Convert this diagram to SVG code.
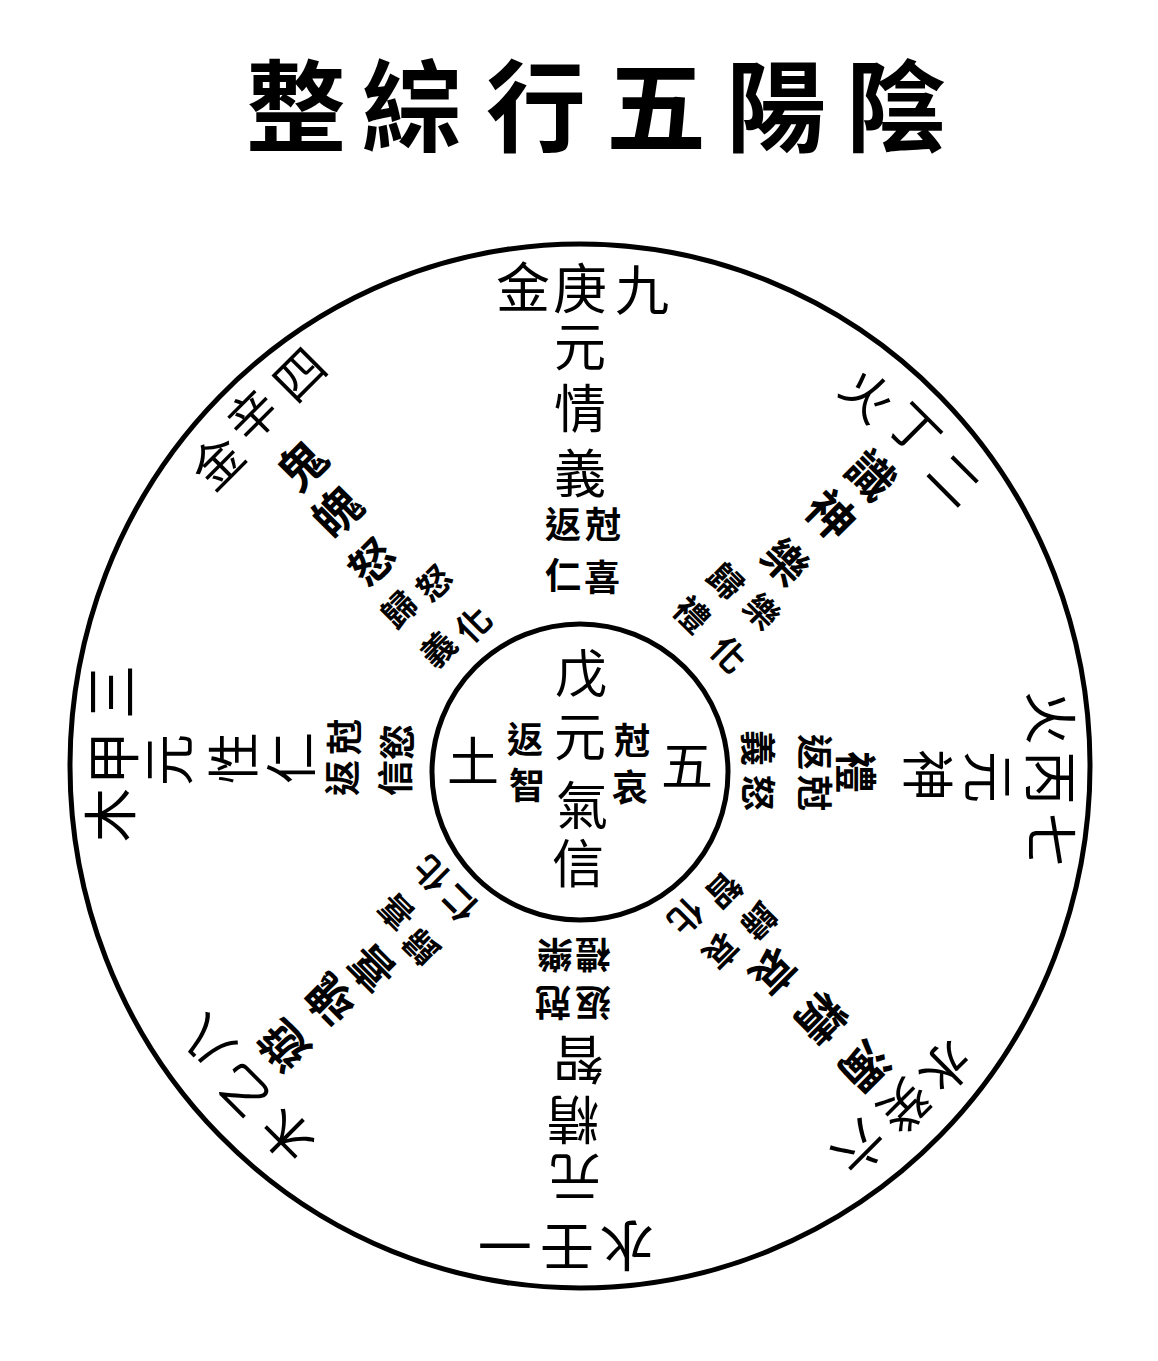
<svg xmlns="http://www.w3.org/2000/svg" width="1158" height="1361" viewBox="0 0 1158 1361">
<style>
text{font-family:"Noto Sans CJK TC","Noto Sans CJK SC",sans-serif;fill:#000;text-anchor:middle;dominant-baseline:central}
.t{font-size:100px;font-weight:700}
.r{font-size:54px}
.b{font-size:52px}
.m{font-size:42px;font-weight:700}
.s{font-size:36px;font-weight:700}
.rd{font-size:50px}
.bd{font-size:47px;font-weight:700}
.md{font-size:44px;font-weight:700}
.sd{font-size:34px;font-weight:700}
.ring{fill:none;stroke:#000;stroke-width:5}
</style>
<rect width="1158" height="1361" fill="#fff"/>
<g id="title">
<text class="t" x="296" y="100">整</text><text class="t" x="412" y="100">綜</text><text class="t" x="536" y="100">行</text><text class="t" x="656" y="100">五</text><text class="t" x="776" y="100">陽</text><text class="t" x="896" y="100">陰</text>
</g>
<g id="connectors">
<ellipse class="ring" cx="580" cy="766" rx="510" ry="522"/>
<circle class="ring" cx="580" cy="772" r="148"/>
</g>
<g id="spoke-top">
<text class="r" x="523" y="284">金</text><text class="r" x="580" y="285">庚</text><text class="r" x="642" y="287">九</text>
<text class="b" x="580" y="343">元</text><text class="b" x="580" y="405">情</text><text class="b" x="580" y="470">義</text>
<text class="s" x="563" y="522">返</text><text class="s" x="603" y="522">尅</text><text class="s" x="563" y="573">仁</text><text class="s" x="602" y="575">喜</text>
</g>
<g id="spoke-top-right">
<text class="rd" x="870" y="393" transform="rotate(45 870 393)">火</text><text class="rd" x="917" y="427" transform="rotate(45 917 427)">丁</text><text class="rd" x="957" y="477" transform="rotate(45 957 477)">二</text>
<text class="bd" x="873" y="473" transform="rotate(45 873 473)">識</text><text class="bd" x="833" y="513" transform="rotate(45 833 513)">神</text><text class="md" x="787" y="560" transform="rotate(45 787 560)">樂</text>
<text class="sd" x="727" y="580" transform="rotate(45 727 580)">歸</text><text class="sd" x="763" y="610" transform="rotate(45 763 610)">樂</text><text class="sd" x="693" y="613" transform="rotate(45 693 613)">禮</text><text class="sd" x="730" y="653" transform="rotate(45 730 653)">化</text>
</g>
<g id="spoke-right">
<text class="r" x="1053" y="718" transform="rotate(90 1053 718)">火</text><text class="r" x="1053" y="778" transform="rotate(90 1053 778)">丙</text><text class="r" x="1053" y="840" transform="rotate(90 1053 840)">七</text>
<text class="b" x="991" y="777" transform="rotate(90 991 777)">元</text><text class="b" x="930" y="775" transform="rotate(90 930 775)">神</text><text class="m" x="858" y="772" transform="rotate(90 858 772)">禮</text>
<text class="s" x="817" y="752" transform="rotate(90 817 752)">返</text><text class="s" x="817" y="793" transform="rotate(90 817 793)">尅</text><text class="s" x="760" y="748" transform="rotate(90 760 748)">義</text><text class="s" x="760" y="793" transform="rotate(90 760 793)">怒</text>
</g>
<g id="spoke-bottom-right">
<text class="rd" x="948" y="1070" transform="rotate(135 948 1070)">水</text><text class="rd" x="907" y="1108" transform="rotate(135 907 1108)">癸</text><text class="rd" x="862" y="1150" transform="rotate(135 862 1150)">六</text>
<text class="bd" x="867" y="1068" transform="rotate(135 867 1068)">濁</text><text class="bd" x="823" y="1020" transform="rotate(135 823 1020)">精</text><text class="md" x="775" y="973" transform="rotate(135 775 973)">哀</text>
<text class="sd" x="760" y="922" transform="rotate(135 760 922)">歸</text><text class="sd" x="722" y="952" transform="rotate(135 722 952)">哀</text><text class="sd" x="725" y="892" transform="rotate(135 725 892)">智</text><text class="sd" x="687" y="918" transform="rotate(135 687 918)">化</text>
</g>
<g id="spoke-bottom">
<text class="r" x="627" y="1248" transform="rotate(180 627 1248)">水</text><text class="r" x="567" y="1250" transform="rotate(180 567 1250)">壬</text><text class="r" x="505" y="1247" transform="rotate(180 505 1247)">一</text>
<text class="b" x="575" y="1180" transform="rotate(180 575 1180)">元</text><text class="b" x="573" y="1122" transform="rotate(180 573 1122)">精</text><text class="b" x="578" y="1062" transform="rotate(180 578 1062)">智</text>
<text class="s" x="593" y="1005" transform="rotate(180 593 1005)">返</text><text class="s" x="553" y="1005" transform="rotate(180 553 1005)">尅</text><text class="s" x="593" y="957" transform="rotate(180 593 957)">禮</text><text class="s" x="555" y="957" transform="rotate(180 555 957)">樂</text>
</g>
<g id="spoke-bottom-left">
<text class="rd" x="285" y="1138" transform="rotate(225 285 1138)">木</text><text class="rd" x="240" y="1093" transform="rotate(225 240 1093)">乙</text><text class="rd" x="205" y="1045" transform="rotate(225 205 1045)">八</text>
<text class="bd" x="282" y="1048" transform="rotate(225 282 1048)">遊</text><text class="bd" x="328" y="1002" transform="rotate(225 328 1002)">魂</text><text class="md" x="370" y="970" transform="rotate(225 370 970)">喜</text>
<text class="sd" x="420" y="948" transform="rotate(225 420 948)">歸</text><text class="sd" x="395" y="913" transform="rotate(225 395 913)">喜</text><text class="sd" x="458" y="905" transform="rotate(225 458 905)">仁</text><text class="sd" x="430" y="875" transform="rotate(225 430 875)">化</text>
</g>
<g id="spoke-left">
<text class="r" x="107" y="815" transform="rotate(270 107 815)">木</text><text class="r" x="110" y="758" transform="rotate(270 110 758)">甲</text><text class="r" x="108" y="692" transform="rotate(270 108 692)">三</text>
<text class="b" x="165" y="760" transform="rotate(270 165 760)">元</text><text class="b" x="230" y="758" transform="rotate(270 230 758)">性</text><text class="b" x="288" y="758" transform="rotate(270 288 758)">仁</text>
<text class="s" x="340" y="778" transform="rotate(270 340 778)">返</text><text class="s" x="342" y="737" transform="rotate(270 342 737)">尅</text><text class="s" x="393" y="778" transform="rotate(270 393 778)">信</text><text class="s" x="395" y="742" transform="rotate(270 395 742)">慾</text>
</g>
<g id="spoke-top-left">
<text class="rd" x="215" y="460" transform="rotate(315 215 460)">金</text><text class="rd" x="250" y="413" transform="rotate(315 250 413)">辛</text><text class="rd" x="297" y="372" transform="rotate(315 297 372)">四</text>
<text class="bd" x="300" y="463" transform="rotate(315 300 463)">鬼</text><text class="bd" x="335" y="510" transform="rotate(315 335 510)">魄</text><text class="md" x="370" y="560" transform="rotate(315 370 560)">怒</text>
<text class="sd" x="398" y="608" transform="rotate(315 398 608)">歸</text><text class="sd" x="433" y="582" transform="rotate(315 433 582)">怒</text><text class="sd" x="437" y="648" transform="rotate(315 437 648)">義</text><text class="sd" x="472" y="623" transform="rotate(315 472 623)">化</text>
</g>
<g id="center">
<text class="b" x="581" y="670">戊</text><text class="b" x="580" y="733">元</text><text class="b" x="582" y="802">氣</text><text class="b" x="578" y="860">信</text>
<text class="b" x="473" y="758">土</text><text class="b" x="687" y="762">五</text>
<text class="s" x="525" y="737">返</text><text class="s" x="527" y="783">智</text><text class="s" x="632" y="738">尅</text><text class="s" x="630" y="785">哀</text>
</g>
</svg>
